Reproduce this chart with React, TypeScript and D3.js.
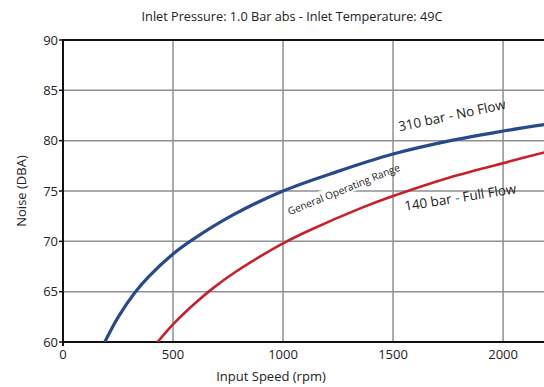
import * as d3 from "d3";

// readings
const noFlowRpm = [190, 250, 326, 394, 500, 584, 775, 1000, 1243, 1500, 1750, 1986, 2190];
const noFlowDba = [60, 62.45, 64.9, 66.6, 68.75, 70.1, 72.65, 75, 76.9, 78.67, 79.95, 80.9, 81.6];
const fullFlowRpm = [430, 500, 590, 682, 790, 900, 1000, 1121, 1348, 1500, 1750, 2032, 2190];
const fullFlowDba = [60, 61.75, 63.65, 65.35, 67.05, 68.55, 69.8, 71.1, 73.25, 74.5, 76.3, 77.95, 78.85];
const xTicks = [0, 500, 1000, 1500, 2000];
const yTicks = [60, 65, 70, 75, 80, 85, 90];

const W = 544;
const H = 387;
const M = { left: 63, right: 0, top: 40, bottom: 45 };
const font = "'Open Sans', 'Noto Sans', sans-serif";

export default function App() {
  const x = d3.scaleLinear().domain([0, 2186]).range([M.left, W - M.right]);
  const y = d3.scaleLinear().domain([60, 90]).range([H - M.bottom, M.top]);

  const noFlowPath =
    d3
      .line<number>()
      .x((d) => x(d))
      .y((_, i) => y(noFlowDba[i]))
      .curve(d3.curveCatmullRom.alpha(0.5))(noFlowRpm) || "";
  const fullFlowPath =
    d3
      .line<number>()
      .x((d) => x(d))
      .y((_, i) => y(fullFlowDba[i]))
      .curve(d3.curveCatmullRom.alpha(0.5))(fullFlowRpm) || "";

  return (
    <>
      <style>{`body{margin:0}`}</style>
      <svg width={W} height={H} style={{ display: "block", background: "#fff" }}>
        <defs>
          <clipPath id="plot">
            <rect x={M.left} y={M.top} width={W - M.left - M.right} height={H - M.top - M.bottom} />
          </clipPath>
        </defs>
        <text x={292} y={21} textAnchor="middle" fontFamily={font} fontSize={12.7} fill="#222">
          Inlet Pressure: 1.0 Bar abs - Inlet Temperature: 49C
        </text>

        {/* grid */}
        {yTicks.slice(1, -1).map((t) => (
          <line key={"gy" + t} x1={M.left} x2={W} y1={y(t)} y2={y(t)} stroke="#8f8f8f" strokeWidth={1.5} />
        ))}
        {xTicks.slice(1).map((t) => (
          <line key={"gx" + t} x1={x(t)} x2={x(t)} y1={M.top} y2={y(60)} stroke="#8f8f8f" strokeWidth={1.5} />
        ))}

        {/* axes */}
        <line x1={M.left} x2={W} y1={M.top} y2={M.top} stroke="#111" strokeWidth={2} />
        <line x1={M.left} x2={W} y1={y(60)} y2={y(60)} stroke="#111" strokeWidth={2} />
        <line x1={M.left} x2={M.left} y1={M.top - 1} y2={y(60) + 4} stroke="#111" strokeWidth={2} />
        {yTicks.map((t) => (
          <g key={"yt" + t}>
            <line x1={M.left - 4} x2={M.left} y1={y(t)} y2={y(t)} stroke="#111" strokeWidth={1.5} />
            <text x={M.left - 5} y={y(t) + 4.5} textAnchor="end" fontFamily={font} fontSize={13} fill="#222">
              {t}
            </text>
          </g>
        ))}
        {xTicks.map((t) => (
          <text key={"xt" + t} x={x(t)} y={y(60) + 17} textAnchor="middle" fontFamily={font} fontSize={13} fill="#222">
            {t}
          </text>
        ))}
        <text x={271} y={381} textAnchor="middle" fontFamily={font} fontSize={13} fill="#222">
          Input Speed (rpm)
        </text>
        <text
          transform={`translate(26,${(M.top + y(60)) / 2}) rotate(-90)`}
          textAnchor="middle"
          fontFamily={font}
          fontSize={13}
          fill="#222"
        >
          Noise (DBA)
        </text>

        {/* range label */}
        <g transform="translate(344,190) rotate(-22)">
          <rect x={-50} y={-8} width={100} height={13} fill="#fff" />
          <text x={0} y={3} textAnchor="middle" fontFamily={font} fontSize={10.2} fill="#222">
            General Operating Range
          </text>
        </g>

        {/* curves */}
        <g clipPath="url(#plot)">
          <path d={noFlowPath} fill="none" stroke="#274a8c" strokeWidth={3.2} />
          <path d={fullFlowPath} fill="none" stroke="#c8202a" strokeWidth={2.6} />
        </g>

        <text transform="translate(453,120) rotate(-12)" textAnchor="middle" fontFamily={font} fontSize={13.4} fill="#222">
          310 bar - No Flow
        </text>
        <text transform="translate(461,202) rotate(-9)" textAnchor="middle" fontFamily={font} fontSize={13.4} fill="#222">
          140 bar - Full Flow
        </text>
      </svg>
    </>
  );
}
